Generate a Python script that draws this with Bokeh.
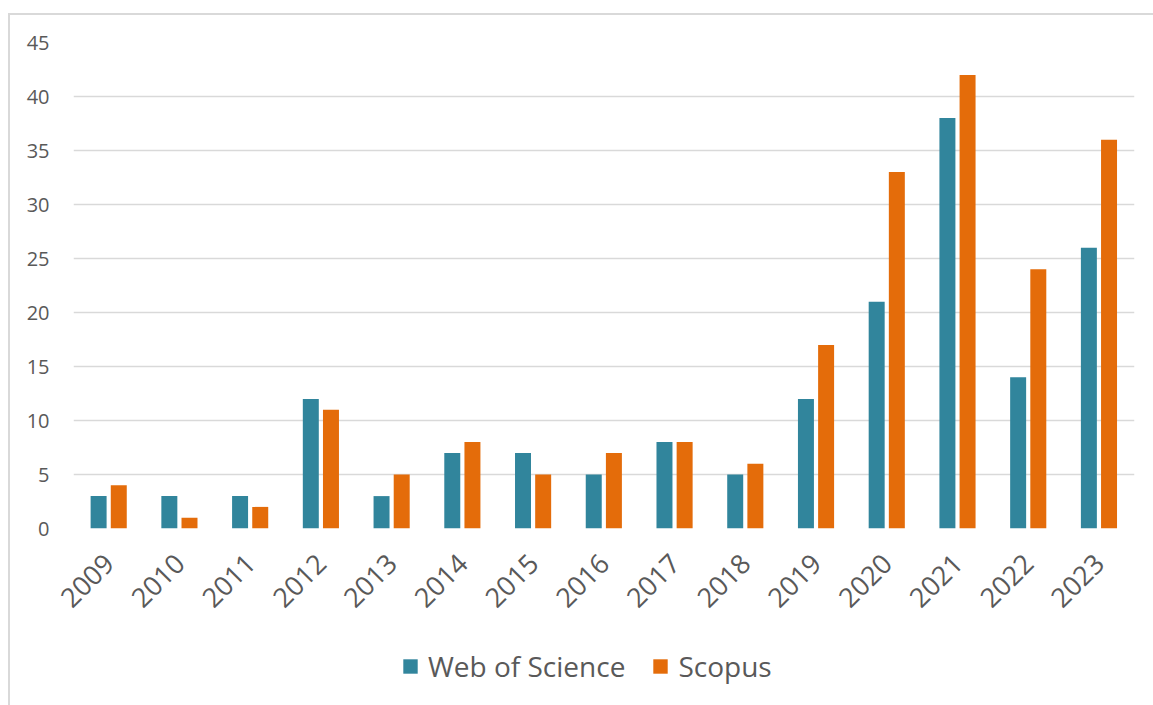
import math
from bokeh.plotting import figure
from bokeh.layouts import column
from bokeh.models import ColumnDataSource, FactorRange, Range1d, Legend, LegendItem, SingleIntervalTicker
from bokeh.transform import dodge
from bokeh.embed import file_html
from bokeh.resources import INLINE

years = ["2009", "2010", "2011", "2012", "2013", "2014", "2015", "2016",
         "2017", "2018", "2019", "2020", "2021", "2022", "2023"]
web_of_science = [3, 3, 3, 12, 3, 7, 7, 5, 8, 5, 12, 21, 38, 14, 26]
scopus = [4, 1, 2, 11, 5, 8, 5, 7, 8, 6, 17, 33, 42, 24, 36]
series_names = ["Web of Science", "Scopus"]

TEAL = "#31859C"
ORANGE = "#E46C0A"
TEXT = "#595959"
GRID = "#D9D9D9"
FONT = "Open Sans"

src = ColumnDataSource(dict(years=years, wos=web_of_science, scopus=scopus))

p = figure(
    x_range=FactorRange(*years, range_padding=0),
    y_range=Range1d(0, 45),
    width=1143, height=613,
    output_backend="svg", toolbar_location=None,
    min_border_left=63, min_border_right=19, min_border_top=27, min_border_bottom=100,
)
p.outline_line_color = None
p.background_fill_color = "white"
p.border_fill_color = "white"

r1 = p.vbar(x=dodge("years", -0.145, range=p.x_range), top="wos", width=0.226,
            source=src, fill_color=TEAL, line_color=None)
r2 = p.vbar(x=dodge("years", 0.14, range=p.x_range), top="scopus", width=0.226,
            source=src, fill_color=ORANGE, line_color=None)

p.xgrid.grid_line_color = None
p.ygrid.grid_line_color = GRID
p.ygrid.grid_line_width = 1.5

p.yaxis.ticker = SingleIntervalTicker(interval=5)
p.yaxis.axis_line_color = None
p.yaxis.major_tick_line_color = None
p.yaxis.minor_tick_line_color = None
p.yaxis.major_label_text_font = FONT
p.yaxis.major_label_text_font_size = "20px"
p.yaxis.major_label_text_color = TEXT
p.yaxis.major_label_standoff = 18

p.xaxis.axis_line_color = None
p.xaxis.major_tick_line_color = None
p.xaxis.minor_tick_line_color = None
p.xaxis.major_label_text_font = FONT
p.xaxis.major_label_text_font_size = "27px"
p.xaxis.major_label_text_color = TEXT
p.xaxis.major_label_orientation = math.pi / 4
p.xaxis.major_label_standoff = 24

# legend strip below the chart
lp = figure(
    width=1143, height=77, x_range=Range1d(0, 1), y_range=Range1d(0, 1),
    x_axis_type=None, y_axis_type=None,
    output_backend="svg", toolbar_location=None,
    min_border=0,
)
lp.outline_line_color = None
lp.grid.visible = False
off = ColumnDataSource(dict(x=[-10], top=[-10]))
l1 = lp.vbar(x="x", top="top", width=0.1, source=off, fill_color=TEAL, line_color=None)
l2 = lp.vbar(x="x", top="top", width=0.1, source=off, fill_color=ORANGE, line_color=None)

legend = Legend(
    items=[LegendItem(label=series_names[0], renderers=[l1]),
           LegendItem(label=series_names[1], renderers=[l2])],
    orientation="horizontal",
    location=(328, 20),
    glyph_width=18, glyph_height=18,
    label_text_font=FONT, label_text_font_size="28px", label_text_color=TEXT,
    label_standoff=9, spacing=26, padding=0, margin=0,
    border_line_color=None, background_fill_alpha=0,
)
lp.add_layout(legend, "center")

layout = column(p, lp, spacing=0,
                styles={"border-left": "2px solid #D9D9D9", "border-top": "2px solid #D9D9D9",
                        "margin-top": "13px", "margin-left": "8px"})

open("out.html", "w").write(file_html(layout, INLINE))
